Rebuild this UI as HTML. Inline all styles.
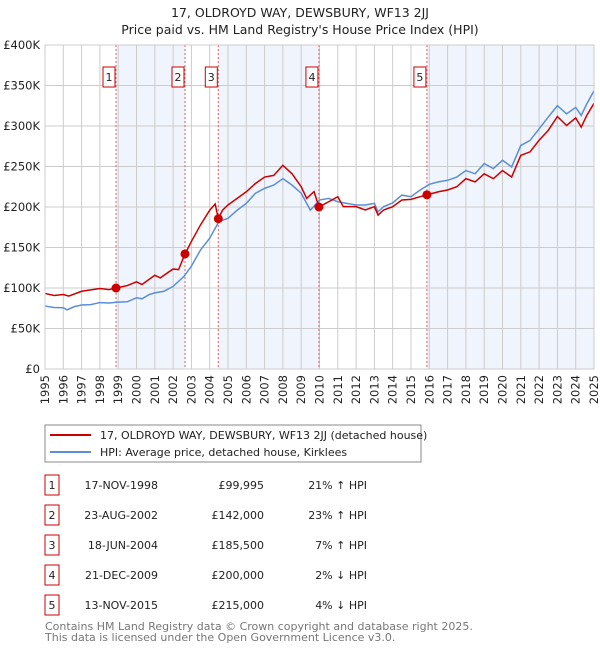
<!DOCTYPE html>
<html><head><meta charset="utf-8"><style>
body{margin:0;background:#fff;font-family:"DejaVu Sans","Liberation Sans",sans-serif;}
svg text{font-family:"DejaVu Sans","Liberation Sans",sans-serif;}
</style></head><body>
<svg id="chart" width="600" height="650" viewBox="0 0 600 650" xmlns="http://www.w3.org/2000/svg">
<text x="300" y="17" text-anchor="middle" font-size="12.5" fill="#222">17, OLDROYD WAY, DEWSBURY, WF13 2JJ</text>
<text x="300" y="34" text-anchor="middle" font-size="12.5" fill="#222">Price paid vs. HM Land Registry's House Price Index (HPI)</text>
<g id="plot"></g>
<g id="legend">
<rect x="45" y="425" width="376" height="37" fill="#fff" stroke="#888"/>
<line x1="50" y1="435" x2="91" y2="435" stroke="#cc0000" stroke-width="2"/>
<text x="100" y="439" font-size="11" fill="#222">17, OLDROYD WAY, DEWSBURY, WF13 2JJ (detached house)</text>
<line x1="50" y1="452" x2="91" y2="452" stroke="#5b8fd4" stroke-width="2"/>
<text x="100" y="456" font-size="11" fill="#222">HPI: Average price, detached house, Kirklees</text>
</g>
<g id="table"></g>
<text x="45" y="630" font-size="11" fill="#777">Contains HM Land Registry data © Crown copyright and database right 2025.</text>
<text x="45" y="641" font-size="11" fill="#777">This data is licensed under the Open Government Licence v3.0.</text>
</svg>
<script>
const hpiYears=[1995,1995.5,1996,1996.2,1996.6,1997,1997.5,1998,1998.5,1999,1999.5,2000,2000.3,2000.7,2001,2001.5,2002,2002.6,2003,2003.5,2004,2004.5,2005,2005.5,2006,2006.5,2007,2007.5,2008,2008.5,2009,2009.5,2010,2010.5,2011,2011.5,2012,2012.5,2013,2013.2,2013.5,2014,2014.5,2015,2015.5,2016,2016.5,2017,2017.5,2018,2018.5,2019,2019.5,2020,2020.5,2021,2021.5,2022,2022.5,2023,2023.5,2024,2024.3,2024.6,2025];
const hpiValues=[77.7,76,75.6,73,77,79,79.5,82,81.5,82.6,83,88,86.7,92,94,96,102,114.5,127,147,161.5,182,186,196,204.5,217,223,227,235,227,217,196,208.6,210.6,206.5,204.5,202.5,202.5,204.5,194,200.4,205,214.7,212.7,221,228,231,233,237,245,241,253.6,247.4,257.7,249.5,276,282,296.5,311,325,315,323,313,327,343.5];
const propYears=[1995,1995.5,1996,1996.3,1997,1998,1998.5,1998.88,1999.5,2000,2000.3,2001,2001.3,2002,2002.3,2002.65,2003,2003.5,2004,2004.3,2004.47,2004.7,2005,2005.5,2006,2006.5,2007,2007.5,2008,2008.5,2009,2009.3,2009.7,2009.97,2010.5,2011,2011.3,2012,2012.5,2013,2013.2,2013.5,2014,2014.5,2015,2015.5,2015.87,2016.5,2017,2017.5,2018,2018.5,2019,2019.5,2020,2020.5,2021,2021.5,2022,2022.5,2023,2023.5,2024,2024.3,2024.6,2025];
const propValues=[93.3,90.8,92,90,96,99.4,98,99.995,103,107.6,104.3,115.7,112.5,123.5,122.7,142,157.5,178,196,203.7,185.5,196,202.5,210.6,218.8,229,237,239,251.5,241,225,210.6,219,200,206.5,212.7,200.4,200.4,196.3,200.4,190,196.3,200.4,208.6,209.4,212.7,215,218.8,221,225,235,231,241,235,245,237,263.8,268,282.4,294.6,311.7,300.6,310,298.6,312.9,328];
const saleLabels=["1","2","3","4","5"];
const saleYears=[1998.88,2002.65,2004.47,2009.97,2015.87];
const saleValues=[99.995,142,185.5,200,215];
const saleDates=["17-NOV-1998","23-AUG-2002","18-JUN-2004","21-DEC-2009","13-NOV-2015"];
const salePrices=["£99,995","£142,000","£185,500","£200,000","£215,000"];
const saleDiffs=["21% ↑ HPI","23% ↑ HPI","7% ↑ HPI","2% ↓ HPI","4% ↓ HPI"];
const yTicks=[0,50,100,150,200,250,300,350,400];
const yTickLabels=["£0","£50K","£100K","£150K","£200K","£250K","£300K","£350K","£400K"];
const xTicks=[1995,1996,1997,1998,1999,2000,2001,2002,2003,2004,2005,2006,2007,2008,2009,2010,2011,2012,2013,2014,2015,2016,2017,2018,2019,2020,2021,2022,2023,2024,2025];

const NS="http://www.w3.org/2000/svg";
const L=45,R=594,T=45,B=369,X0=1995,X1=2025,Y1=400;
const xs=v=>L+(v-X0)/(X1-X0)*(R-L);
const ys=v=>B-v/Y1*(B-T);
const plot=document.getElementById('plot');
function mk(tag,attrs,parent){const e=document.createElementNS(NS,tag);for(const k in attrs)e.setAttribute(k,attrs[k]);(parent||plot).appendChild(e);return e;}
// shaded bands
const bandEnds=[[saleYears[0],saleYears[1]],[saleYears[2],saleYears[3]],[saleYears[4],X1]];
bandEnds.forEach(b=>{const r=mk('rect',{x:xs(b[0]),y:T,width:xs(b[1])-xs(b[0]),height:B-T,fill:'#f0f4fc'});

});
// grid
xTicks.forEach(t=>{const l=mk('line',{x1:xs(t),x2:xs(t),y1:T,y2:B,stroke:'#ccc','stroke-width':1});


const tx=mk('text',{x:0,y:0,'font-size':11.5,fill:'#222','text-anchor':'end',transform:`translate(${xs(t)+4},${B+6}) rotate(-90)`});
tx.textContent=t;

});
yTicks.forEach((t,i)=>{const l=mk('line',{x1:L,x2:R,y1:ys(t),y2:ys(t),stroke:'#ccc','stroke-width':1});


const tx=mk('text',{x:L-5,y:ys(t)+4,'font-size':11.5,fill:'#222','text-anchor':'end'});
tx.textContent=yTickLabels[i];

});
// sale vlines
saleYears.forEach((s,i)=>{const l=mk('line',{x1:xs(s),x2:xs(s),y1:T,y2:B,stroke:'#e06060','stroke-width':1,'stroke-dasharray':'2,2'});


const bx=xs(s)-13;
const r=mk('rect',{x:bx,y:67,width:12,height:20,fill:'#fff',stroke:'#cc0000','stroke-width':1});


const tx=mk('text',{x:bx+6,y:81,'font-size':11,fill:'#222','text-anchor':'middle'});
tx.textContent=saleLabels[i];

});
// lines
const hp=mk('polyline',{points:hpiYears.map((y,i)=>xs(y)+','+ys(hpiValues[i])).join(' '),fill:'none',stroke:'#5b8fd4','stroke-width':1.5});


const pp=mk('polyline',{points:propYears.map((y,i)=>xs(y)+','+ys(propValues[i])).join(' '),fill:'none',stroke:'#cc0000','stroke-width':1.5});


saleYears.forEach((s,i)=>{const c=mk('circle',{cx:xs(s),cy:ys(saleValues[i]),r:4.5,fill:'#cc0000'});

});
mk('rect',{x:L,y:T,width:R-L,height:B-T,fill:'none',stroke:'#ccc'});
// table
const tb=document.getElementById('table');
saleLabels.forEach((lab,i)=>{const cy=485+30*i;
const r=mk('rect',{x:45,y:cy-10,width:14,height:20,fill:'#fff',stroke:'#cc0000'},tb);


const cells=[[52,'middle',lab,'table-row-number'],[158,'end',saleDates[i],'table-date'],[264,'end',salePrices[i],'table-price'],[367,'end',saleDiffs[i],'table-hpi-diff']];
cells.forEach(c=>{const t=mk('text',{x:c[0],y:cy+4,'font-size':11,fill:'#222','text-anchor':c[1]},tb);
t.textContent=c[2];

});});
</script>
</body></html>
